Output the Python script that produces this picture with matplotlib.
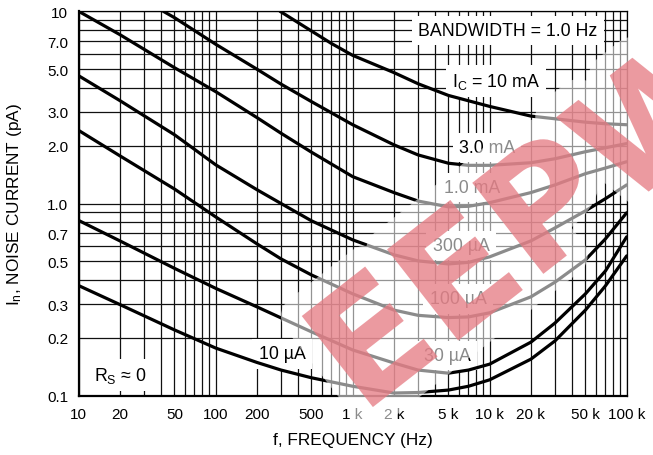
import numpy as np
import matplotlib
matplotlib.use('Agg')
import matplotlib.pyplot as plt
import matplotlib.patheffects as pe
from matplotlib.ticker import FixedLocator, LogLocator, NullFormatter

plt.rcParams['font.family'] = ['Liberation Sans', 'DejaVu Sans']

# noise current (pA) versus frequency (Hz), one curve per collector current
freq_10ma = [295, 500, 700, 1000, 2000, 3000, 5000, 10000, 20000, 50000, 70000, 100000]
in_10ma = [10.0, 7.9, 6.8, 5.9, 4.8, 4.2, 3.65, 3.2, 2.85, 2.65, 2.60, 2.57]

freq_3ma = [41.5, 50, 100, 200, 300, 500, 1000, 2000, 3000, 5000, 7000, 10000,
            20000, 30000, 50000, 70000, 100000]
in_3ma = [10.0, 9.27, 6.74, 5.00, 4.18, 3.39, 2.57, 2.02, 1.79, 1.62, 1.58, 1.58,
          1.63, 1.71, 1.86, 1.95, 2.05]

freq = [10, 20, 50, 100, 200, 300, 500, 1000, 2000, 3000, 5000, 7000, 10000,
        20000, 30000, 50000, 70000, 100000]
in_1ma = [10.0, 7.56, 5.09, 3.82, 2.80, 2.32, 1.85, 1.38, 1.14, 1.03, 0.961, 0.967,
          1.01, 1.14, 1.25, 1.43, 1.53, 1.65]
in_300ua = [4.62, 3.43, 2.28, 1.59, 1.18, 1.00, 0.813, 0.647, 0.541, 0.503, 0.485,
            0.494, 0.528, 0.639, 0.747, 0.916, 1.06, 1.25]
in_100ua = [2.40, 1.77, 1.19, 0.852, 0.617, 0.515, 0.425, 0.339, 0.279, 0.262, 0.255,
            0.257, 0.270, 0.327, 0.390, 0.509, 0.655, 0.895]
in_30ua = [0.816, 0.639, 0.460, 0.362, 0.290, 0.254, 0.215, 0.173, 0.148, 0.136, 0.131,
           0.136, 0.146, 0.190, 0.239, 0.339, 0.446, 0.671]
in_10ua = [0.374, 0.298, 0.220, 0.177, 0.149, 0.136, 0.124, 0.112, 0.1033, 0.1039,
           0.107, 0.112, 0.121, 0.155, 0.193, 0.279, 0.373, 0.534]

curves = [(freq_10ma, in_10ma), (freq_3ma, in_3ma), (freq, in_1ma), (freq, in_300ua),
          (freq, in_100ua), (freq, in_30ua), (freq, in_10ua)]

# curve labels: text, frequency, current
labels = [
    ('BANDWIDTH = 1.0 Hz', 13600, 7.93),
    ('$\\mathregular{I_C}$ = 10 mA', 11100, 4.35),
    ('3.0 mA', 9550, 1.95),
    ('1.0 mA', 7430, 1.21),
    ('300 µA', 6170, 0.604),
    ('100 µA', 5870, 0.319),
    ('30 µA', 4880, 0.162),
    ('10 µA', 305, 0.165),
    ('$\\mathregular{R_S}$ ≈ 0', 20, 0.128),
]

xticks = [10, 20, 50, 100, 200, 500, 1e3, 2e3, 5e3, 1e4, 2e4, 5e4, 1e5]
xticklabels = ['10', '20', '50', '100', '200', '500', '1 k', '2 k', '5 k',
               '10 k', '20 k', '50 k', '100 k']
yticks = [0.1, 0.2, 0.3, 0.5, 0.7, 1.0, 2.0, 3.0, 5.0, 7.0, 10]
yticklabels = ['0.1', '0.2', '0.3', '0.5', '0.7', '1.0', '2.0', '3.0', '5.0', '7.0', '10']

fig = plt.figure(figsize=(6.53, 4.56), dpi=100)
ax = fig.add_axes([0.1205, 0.130, 0.8392, 0.843])
ax.set_xscale('log')
ax.set_yscale('log')
ax.set_xlim(10, 1e5)
ax.set_ylim(0.1, 10)

ax.xaxis.set_major_locator(FixedLocator(xticks))
ax.set_xticklabels(xticklabels)
ax.yaxis.set_major_locator(FixedLocator(yticks))
ax.set_yticklabels(yticklabels)
ax.xaxis.set_minor_locator(LogLocator(base=10, subs=np.arange(1, 10), numticks=20))
ax.yaxis.set_minor_locator(LogLocator(base=10, subs=np.arange(1, 10), numticks=20))
ax.xaxis.set_minor_formatter(NullFormatter())
ax.yaxis.set_minor_formatter(NullFormatter())
ax.tick_params(which='both', length=0, labelsize=11)
ax.tick_params(axis='y', pad=7.5)
ax.tick_params(axis='x', pad=8)

ax.set_axisbelow(True)
ax.grid(which='both', color='#111111', linewidth=0.9)
for side in ['left', 'bottom']:
    ax.spines[side].set_linewidth(1.6)
for side in ['top', 'right']:
    ax.spines[side].set_linewidth(0.9)

for f, i in curves:
    ax.plot(f, i, color='black', linewidth=2.3, zorder=3,
            solid_joinstyle='round', solid_capstyle='round')

for s, x, y in labels:
    ax.text(x, y, s, fontsize=12.8, ha='center', va='center', zorder=2.5,
            bbox=dict(boxstyle='square,pad=0.35', fc='white', ec='none'))

ax.set_xlabel('f, FREQUENCY (Hz)', fontsize=12.4)
ax.xaxis.set_label_coords(0.5, -0.095)
ax.set_ylabel('$\\mathregular{I_n}$, NOISE CURRENT (pA)', fontsize=12.4)
ax.yaxis.set_label_coords(-0.1, 0.5)

# watermark over the chart
fig.text(0.818, 0.504, 'EEPW', rotation=38, rotation_mode='anchor',
         ha='center', va='center', fontsize=114, fontweight='bold',
         family='DejaVu Sans', color=(0.88, 0.36, 0.40, 0.5),
         path_effects=[pe.withStroke(linewidth=30, foreground=(1, 1, 1, 0.55))])

fig.savefig('out.png', dpi=100)
